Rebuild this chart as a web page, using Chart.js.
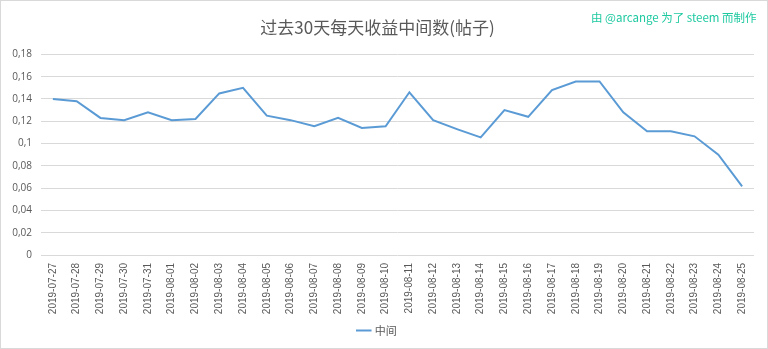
<!DOCTYPE html>
<html>
<head>
<meta charset="utf-8">
<script src="https://cdn.jsdelivr.net/npm/chart.js@4/dist/chart.umd.min.js"></script>
<style>
  html, body { margin: 0; padding: 0; background: #fff; }
  #wrap { position: relative; width: 768px; height: 349px; box-sizing: border-box; border: 1px solid #d9d9d9; }
  #c { position: absolute; left: 0; top: 0; }
  #credit { position: absolute; left: 590px; top: 8px; font-family: 'Noto Sans CJK SC', 'Open Sans', sans-serif; font-size: 11.5px; color: #1ec9a0; white-space: nowrap; }
</style>
</head>
<body>
<div id="wrap">
  <canvas id="c" width="766" height="347"></canvas>
  <div id="credit">由 @arcange 为了 steem 而制作</div>
</div>
<script>
const titleText = '过去30天每天收益中间数(帖子)';
const seriesName = '中间';
const categories = ['2019-07-27','2019-07-28','2019-07-29','2019-07-30','2019-07-31','2019-08-01','2019-08-02','2019-08-03','2019-08-04','2019-08-05','2019-08-06','2019-08-07','2019-08-08','2019-08-09','2019-08-10','2019-08-11','2019-08-12','2019-08-13','2019-08-14','2019-08-15','2019-08-16','2019-08-17','2019-08-18','2019-08-19','2019-08-20','2019-08-21','2019-08-22','2019-08-23','2019-08-24','2019-08-25'];
const medianValues = [0.140,0.138,0.123,0.121,0.128,0.121,0.122,0.145,0.150,0.125,0.121,0.1155,0.123,0.114,0.1155,0.146,0.121,0.113,0.1055,0.130,0.124,0.148,0.1557,0.1557,0.128,0.111,0.111,0.1065,0.090,0.0615];
const yTicks = [0,0.02,0.04,0.06,0.08,0.1,0.12,0.14,0.16,0.18];

const FONT = "'Liberation Sans','Open Sans',sans-serif";
const TXT = '#595959';

new Chart(document.getElementById('c'), {
  type: 'line',
  data: {
    labels: categories,
    datasets: [{
      label: seriesName,
      data: medianValues,
      borderColor: '#5b9bd5',
      backgroundColor: '#5b9bd5',
      borderWidth: 2,
      pointRadius: 0,
      tension: 0,
      fill: false
    }]
  },
  options: {
    responsive: false,
    animation: false,
    layout: { padding: { left: 0, right: 13, top: 0, bottom: 2 } },
    plugins: {
      title: {
        display: true,
        text: titleText,
        color: TXT,
        font: { family: "'Noto Sans CJK SC','Open Sans',sans-serif", size: 17, weight: 'normal', lineHeight: 1.2 },
        padding: { top: 16, bottom: 17 }
      },
      legend: {
        display: true,
        position: 'bottom',
        labels: {
          usePointStyle: true,
          pointStyle: 'line',
          boxWidth: 30,
          color: TXT,
          font: { family: "'Noto Sans CJK SC','Open Sans',sans-serif", size: 11 },
          padding: 8
        }
      },
      tooltip: { enabled: false }
    },
    scales: {
      x: {
        offset: true,
        grid: { display: false, drawTicks: false, tickLength: 0 },
        border: { display: false },
        ticks: {
          color: TXT,
          font: { family: FONT, size: 10 },
          maxRotation: 90,
          minRotation: 90,
          autoSkip: false,
          padding: 8
        },
        afterFit(scale) { scale.height = 62; }
      },
      y: {
        min: 0,
        max: 0.18,
        afterBuildTicks(scale) { scale.ticks = yTicks.map(v => ({ value: v })); },
        grid: { color: '#d9d9d9', lineWidth: 1, drawTicks: false },
        border: { display: false },
        ticks: {
          color: TXT,
          font: { family: "'Open Sans',sans-serif", size: 10 },
          padding: 9,
          callback: v => String(Math.round(v * 100) / 100).replace('.', ',')
        },
        afterFit(scale) { scale.width = 40; }
      }
    }
  }
});
</script>
</body>
</html>
